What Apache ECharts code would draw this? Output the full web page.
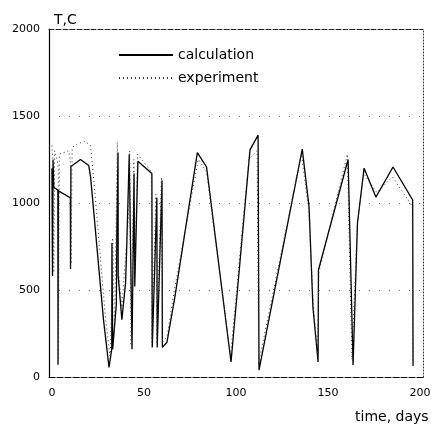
<!DOCTYPE html>
<html>
<head>
<meta charset="utf-8">
<script src="https://cdn.jsdelivr.net/npm/echarts@6/dist/echarts.min.js"></script>
<style>
  html, body { margin: 0; padding: 0; background: #fff; }
  #chart { width: 436px; height: 429px; }
</style>
</head>
<body>
<div id="chart"></div>
<script>
// 数据：时间(天) / 温度
const xTicks = [0, 50, 100, 150, 200];
const yTicks = [0, 500, 1000, 1500, 2000];

const calculation = [
  [0, 1200], [0.3, 580], [0.6, 1250], [1, 1090], [3.2, 1075], [3.3, 70], [3.5, 1070],
  [10, 1030], [10.1, 620], [10.3, 1210], [15.5, 1250], [20, 1215], [21, 1150],
  [28, 330], [31, 55], [32.5, 160], [32.6, 770], [33, 160], [35, 420], [35.3, 870],
  [35.9, 1290], [36, 580], [38, 330], [40, 540], [40.5, 700], [42, 1280], [43.5, 160],
  [44.6, 1170], [45, 520], [46.7, 1240], [54.3, 1170], [54.5, 170], [57, 1030],
  [57.2, 170], [59.8, 1130], [60, 170], [62.5, 200], [66.8, 460], [79, 1290],
  [84, 1207], [97.3, 86], [107.6, 1305], [112, 1390], [112.5, 40], [136, 1310],
  [139.7, 977], [141.8, 400], [144.6, 86], [144.8, 615], [160.9, 1250], [163.6, 69],
  [166, 885], [169.6, 1200], [176, 1034], [185.3, 1207], [196, 1017], [196.2, 63]
];

const experiment = [
  [0, 1330], [0.5, 1250], [1, 600], [1.5, 1300], [3, 1240], [3.4, 1200], [3.6, 100],
  [4, 1280], [9, 1300], [10, 1250], [10.4, 650], [11, 1320], [14, 1340], [18, 1355],
  [21, 1330], [23, 1100], [29, 350], [31.5, 120], [32, 200], [33, 800], [34, 250],
  [35.5, 1350], [36.2, 600], [38, 400], [40, 700], [41.5, 900], [42.2, 1300], [43, 180],
  [44.5, 1250], [45, 600], [46.5, 1280], [54, 1180], [54.3, 200], [56.5, 1050],
  [57, 200], [59.5, 1150], [60, 200], [62.5, 230], [66.5, 500], [79.5, 1250],
  [84, 1180], [97, 120], [107, 1250], [111.5, 1300], [112.3, 80], [135.5, 1280],
  [139.5, 960], [142, 420], [144.4, 120], [145, 600], [160.5, 1280], [163, 100],
  [165.8, 860], [169.3, 1170], [176.5, 1060], [185, 1150], [195.8, 980], [196.1, 80]
];

const font = "DejaVu Sans";
const chart = echarts.init(document.getElementById("chart"));

chart.setOption({
  animation: false,
  backgroundColor: "#fff",
  textStyle: { fontFamily: font, color: "#000" },
  grid: { left: 49, right: 13, top: 29, bottom: 52, containLabel: false },
  title: [
    { text: "T,C", left: 49, top: 8, textStyle: { fontFamily: font, fontSize: 14, fontWeight: "normal", color: "#000" } },
    { text: "time, days", left: 350, top: 405, textStyle: { fontFamily: font, fontSize: 14, fontWeight: "normal", color: "#000" } }
  ],
  legend: {
    orient: "vertical",
    left: 113,
    top: 43,
    itemWidth: 54,
    itemHeight: 10,
    itemGap: 9,
    itemStyle: { opacity: 0 },
    textStyle: { fontFamily: font, fontSize: 14, color: "#000" },
    data: ["calculation", "experiment"]
  },
  xAxis: [
    {
      type: "value",
      min: -1.6,
      max: 201.6,
      axisLine: { lineStyle: { color: "#000", width: 1.2, type: [6, 2] } },
      axisTick: { show: false, customValues: xTicks },
      axisLabel: { customValues: xTicks, color: "#000", fontSize: 11, margin: 11, fontFamily: font },
      splitLine: { show: false }
    },
    {
      type: "value",
      position: "top",
      min: -1.6,
      max: 201.6,
      axisLine: { show: true, onZero: false, lineStyle: { color: "#222", width: 1, type: [5, 2] } },
      axisTick: { show: false },
      axisLabel: { show: false },
      splitLine: { show: false }
    }
  ],
  yAxis: [
    {
      type: "value",
      min: 0,
      max: 2000,
      interval: 500,
      axisLine: { show: true, onZero: false, lineStyle: { color: "#000", width: 1.2 } },
      axisTick: { show: false },
      axisLabel: {
        color: "#000", fontSize: 11, margin: 9, fontFamily: font,
        formatter: (v) => (yTicks.includes(v) ? String(v) : "")
      },
      splitLine: { show: true, lineStyle: { color: "#777", width: 1, type: [1, 9] } }
    },
    {
      type: "value",
      position: "right",
      min: 0,
      max: 2000,
      axisLine: { show: true, onZero: false, lineStyle: { color: "#333", width: 1, type: [1, 2] } },
      axisTick: { show: false },
      axisLabel: { show: false },
      splitLine: { show: false }
    }
  ],
  series: [
    {
      name: "calculation",
      type: "line",
      data: calculation,
      symbol: "none",
      lineStyle: { color: "#000", width: 1.3 },
      itemStyle: { color: "#000" }
    },
    {
      name: "experiment",
      type: "line",
      data: experiment,
      symbol: "none",
      lineStyle: { color: "#333", width: 1, type: [1, 3] },
      itemStyle: { color: "#333" }
    }
  ]
});
</script>
</body>
</html>
